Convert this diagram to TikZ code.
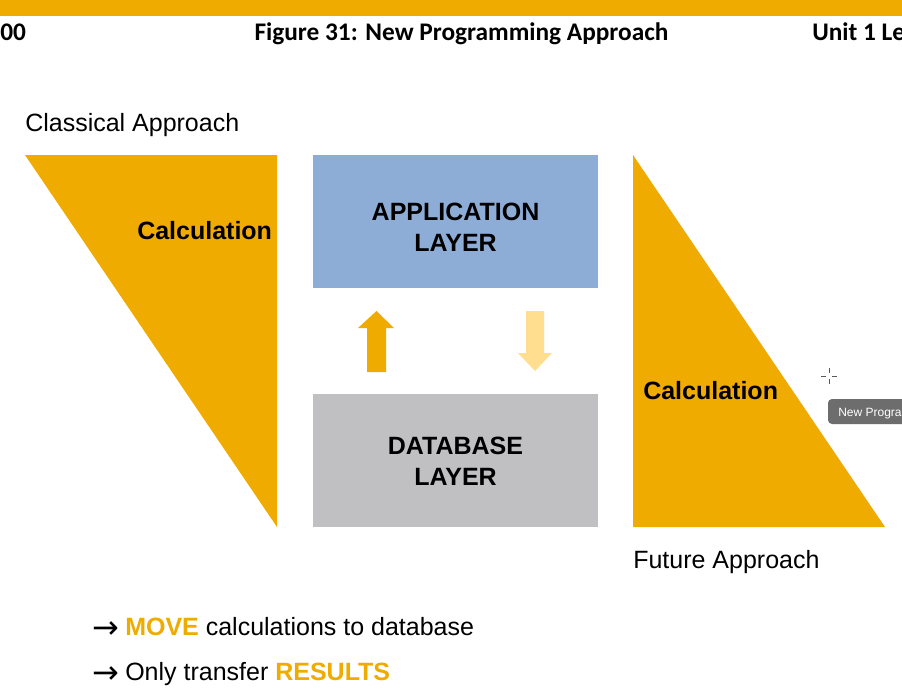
\documentclass[tikz,border=0pt]{standalone}
\usepackage{fontspec}
\setmainfont{Liberation Sans}
\newfontfamily\hdrfont{Carlito}
\newfontfamily\arrfont{DejaVu Sans}
\definecolor{sapgold}{HTML}{F0AB00}
\definecolor{applblue}{HTML}{8EADD6}
\definecolor{dbgray}{HTML}{C0BFC1}
\definecolor{lightgold}{HTML}{FFDF8F}
\definecolor{tipgray}{HTML}{6D6D6D}
\tikzset{
  big/.style={inner sep=0pt, font=\fontsize{18.75}{22}\selectfont},
  bigbold/.style={inner sep=0pt, font=\fontsize{18.75}{22}\selectfont\bfseries},
  hdr/.style={inner sep=0pt, font=\hdrfont\fontsize{19}{22}\selectfont\bfseries},
  arr/.style={inner sep=0pt, font=\arrfont\fontsize{24}{26}\selectfont},
}
\begin{document}
\begin{tikzpicture}[x=0.75pt,y=-0.75pt]
\useasboundingbox (0,0) rectangle (902,697);
\clip (0,0) rectangle (902,697);
\fill[white] (0,0) rectangle (902,697);
% top bar
\fill[sapgold] (0,0) rectangle (902,16);
\node[hdr, anchor=base west] (h0) at (0,40) {00};
\node[hdr, anchor=base] (h1) at (461.5,40) {Figure 31: New Programming Approach};
\node[hdr, anchor=base west] (h2) at (812,40) {Unit 1 Le};
% left classical
\node[big, anchor=base west] (classical) at (25,131) {Classical Approach};
\fill[sapgold] (25,155) -- (277,155) -- (277,527) -- cycle;
\node[bigbold, anchor=base west] (calcL) at (137,239) {Calculation};
% boxes
\fill[applblue] (313,155) rectangle (598,288);
\node[bigbold, anchor=base] (app1) at (455.5,220) {APPLICATION};
\node[bigbold, anchor=base] (app2) at (455.5,251) {LAYER};
\fill[dbgray] (313,394) rectangle (598,527);
\node[bigbold, anchor=base] (db1) at (455.5,454) {DATABASE};
\node[bigbold, anchor=base] (db2) at (455.5,485) {LAYER};
% arrows
\fill[sapgold] (367,372) -- (367,328) -- (358,328) -- (376.5,311) -- (394,328) -- (386,328) -- (386,372) -- cycle;
\fill[lightgold] (526,311) -- (526,353) -- (518,353) -- (535,371) -- (552,353) -- (544,353) -- (544,311) -- cycle;
% right future
\fill[sapgold] (633,155) -- (633,527) -- (885,527) -- cycle;
\node[bigbold, anchor=base west] (calcR) at (643,399) {Calculation};
\node[big, anchor=base west] (future) at (633,568) {Future Approach};
% bullets
\node[arr, anchor=center] (a1) at (106,630) {→};
\node[big, anchor=base west] (b1) at (125,635) {\textbf{\color{sapgold}MOVE} calculations to database};
\node[arr, anchor=center] (a2) at (106,675) {→};
\node[big, anchor=base west] (b2) at (125,680) {Only transfer \textbf{\color{sapgold}RESULTS}};
% cursor and tooltip
\draw[gray!70!black, line width=0.6pt] (821,376) -- (826,376) (832,376) -- (837,376) (829,368) -- (829,373) (829,379) -- (829,384);
\fill[tipgray, rounded corners=3pt] (828,399) rectangle (915,424);
\node[inner sep=0pt, anchor=base west, text=white, font=\fontsize{9}{11}\selectfont] (tip) at (838,416) {New Progra};
\end{tikzpicture}
\end{document}
